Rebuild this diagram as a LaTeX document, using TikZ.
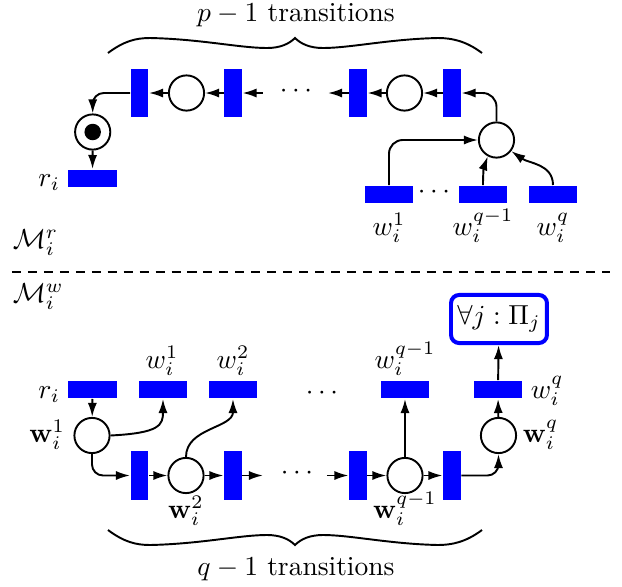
\documentclass[tikz,border=0pt]{standalone}
\usetikzlibrary{arrows.meta}
\begin{document}
\begin{tikzpicture}[x=0.3636pt,y=-0.3636pt,
  line width=0.7pt,
  trans/.style={fill=blue,inner sep=0pt,minimum width=17.5pt,minimum height=6.2pt},
  vtrans/.style={fill=blue,inner sep=0pt,minimum width=6.2pt,minimum height=17.5pt},
  place/.style={draw,circle,inner sep=0pt,minimum size=12.8pt},
  arc/.style={-{Latex[length=5.1pt,width=3.3pt]}},
  goalbox/.style={draw=blue,line width=1.45pt,rounded corners=3pt,inner sep=1pt,
    minimum width=34.9pt,minimum height=17.5pt},
  lbl/.style={inner sep=0pt},
]
\useasboundingbox (0,0) rectangle (622,587);

% ---------- reader module ----------
\node[lbl,anchor=base] (ptext) at (296,21) {$p-1$ transitions};
% curly brace over the p-1 transitions
\draw (108,53) .. controls (124,41) and (136,38) .. (150,38)
  .. controls (200,39) and (240,48) .. (267,48)
  .. controls (280,48) and (289,44) .. (295,38)
  .. controls (301,44) and (310,48) .. (323,48)
  .. controls (350,48) and (390,39) .. (438,38)
  .. controls (452,38) and (466,41) .. (482,53);

\node[vtrans] (ta1) at (139.5,93) {};
\node[place]  (pa1) at (186.5,93) {};
\node[vtrans] (ta2) at (233,93) {};
\coordinate (da1) at (263,93);
\node[lbl] (dotsa) at (296,91) {$\cdots$};
\coordinate (da2) at (328,93);
\node[vtrans] (ta3) at (358,93) {};
\node[place]  (pa2) at (404.5,93) {};
\node[vtrans] (ta4) at (452,93) {};
\node[place]  (pw) at (496.5,140) {};

\node[place] (tok) at (92.7,132) {};
\fill (tok.center) circle (3pt);
\node[trans] (ri) at (92.5,178.5) {};
\node[lbl,anchor=base east] (rilbl) at (61,186) {$r_i$};

\node[trans] (w1)  at (389,194.5) {};
\node[trans] (wq1) at (483,194.5) {};
\node[trans] (wq)  at (553,194.5) {};
\node[lbl] (dotsw) at (434,192) {$\cdots$};
\node[lbl,anchor=base] (w1lbl)  at (389,235) {$w_i^1$};
\node[lbl,anchor=base] (wq1lbl) at (483,235) {$w_i^{q-1}$};
\node[lbl,anchor=base] (wqlbl)  at (553,235) {$w_i^q$};

\draw[arc] (da1) -- (ta2);
\draw[arc] (ta2) -- (pa1);
\draw[arc] (pa1) -- (ta1);
\draw[arc,rounded corners=4pt] (ta1.west) -| (tok.north);
\draw[arc] (tok) -- (ri);
\draw[arc] (ta4) -- (pa2);
\draw[arc] (pa2) -- (ta3);
\draw[arc] (ta3) -- (da2);
\draw[arc,rounded corners=5pt] (pw.north) |- (ta4.east);
\draw[arc,rounded corners=5pt] (w1.north) |- (pw.west);
\draw[arc] (wq1.north) to[out=90,in=-110] (pw.-118);
\draw[arc] (wq.north) to[out=90,in=-35] (pw.-37);

\node[lbl,anchor=base west] (mr) at (12,248) {$\mathcal{M}_i^r$};

% ---------- separator ----------
\draw[dash pattern=on 3.3pt off 2.5pt] (12,272) -- (610,272);

% ---------- writer module ----------
\node[lbl,anchor=base west] (mw) at (12,302) {$\mathcal{M}_i^w$};

\node[goalbox] (goal) at (499,319) {$\forall j:\Pi_j$};

\node[trans] (r2)   at (92.5,389.5) {};
\node[trans] (bw1)  at (163,389.5) {};
\node[trans] (bw2)  at (233,389.5) {};
\node[lbl] (dotsb) at (322,393) {$\cdots$};
\node[trans] (bwq1) at (405,389.5) {};
\node[trans] (bwq)  at (498,389.5) {};

\node[lbl,anchor=base east] (r2lbl)   at (61,398) {$r_i$};
\node[lbl,anchor=base] (bw1lbl)  at (162,368) {$w_i^1$};
\node[lbl,anchor=base] (bw2lbl)  at (233,368) {$w_i^2$};
\node[lbl,anchor=base] (bwq1lbl) at (405,368) {$w_i^{q-1}$};
\node[lbl,anchor=base west] (bwqlbl) at (530,398) {$w_i^q$};

\node[place]  (q1)  at (92,435.5) {};
\node[vtrans] (b1)  at (139.5,475.5) {};
\node[place]  (q2)  at (186,475.5) {};
\node[vtrans] (b2)  at (233,475.5) {};
\coordinate (db1) at (263,475.5);
\node[lbl] (dotsc) at (297,473) {$\cdots$};
\coordinate (db2) at (327,475.5);
\node[vtrans] (b3)  at (358,475.5) {};
\node[place]  (qq1) at (405,475.5) {};
\node[vtrans] (b4)  at (452,475.5) {};
\node[place]  (qq)  at (498.5,435.5) {};

\node[lbl,anchor=base east] (q1lbl)  at (66,442) {$\mathbf{w}_i^1$};
\node[lbl,anchor=base west] (qqlbl)  at (522,442) {$\mathbf{w}_i^q$};
\node[lbl,anchor=base] (q2lbl)  at (186,518) {$\mathbf{w}_i^2$};
\node[lbl,anchor=base] (qq1lbl) at (405,518) {$\mathbf{w}_i^{q-1}$};

\draw[arc] (r2) -- (q1);
\draw[arc] (q1.east) .. controls (160,433) and (163,425) .. (bw1.south);
\draw[arc,rounded corners=4pt] (q1.south) |- (b1.west);
\draw[arc] (b1) -- (q2);
\draw[arc] (q2) -- (b2);
\draw[arc] (b2) -- (db1);
\draw[arc] (q2.north) to[out=90,in=-90] (bw2.south);
\draw[arc] (db2) -- (b3);
\draw[arc] (b3) -- (qq1);
\draw[arc] (qq1) -- (b4);
\draw[arc] (qq1) -- (bwq1);
\draw[arc,rounded corners=4pt] (b4.east) -| (qq.south);
\draw[arc] (qq) -- (bwq);
\draw[arc] (bwq) -- (goal);

% curly brace under the q-1 transitions
\draw (108,530) .. controls (124,542) and (136,545) .. (150,545)
  .. controls (200,544) and (240,535) .. (267,535)
  .. controls (280,535) and (289,539) .. (295,545)
  .. controls (301,539) and (310,535) .. (323,535)
  .. controls (350,535) and (390,544) .. (438,545)
  .. controls (452,545) and (466,542) .. (482,530);
\node[lbl,anchor=base] (qtext) at (296,575) {$q-1$ transitions};
\end{tikzpicture}
\end{document}
